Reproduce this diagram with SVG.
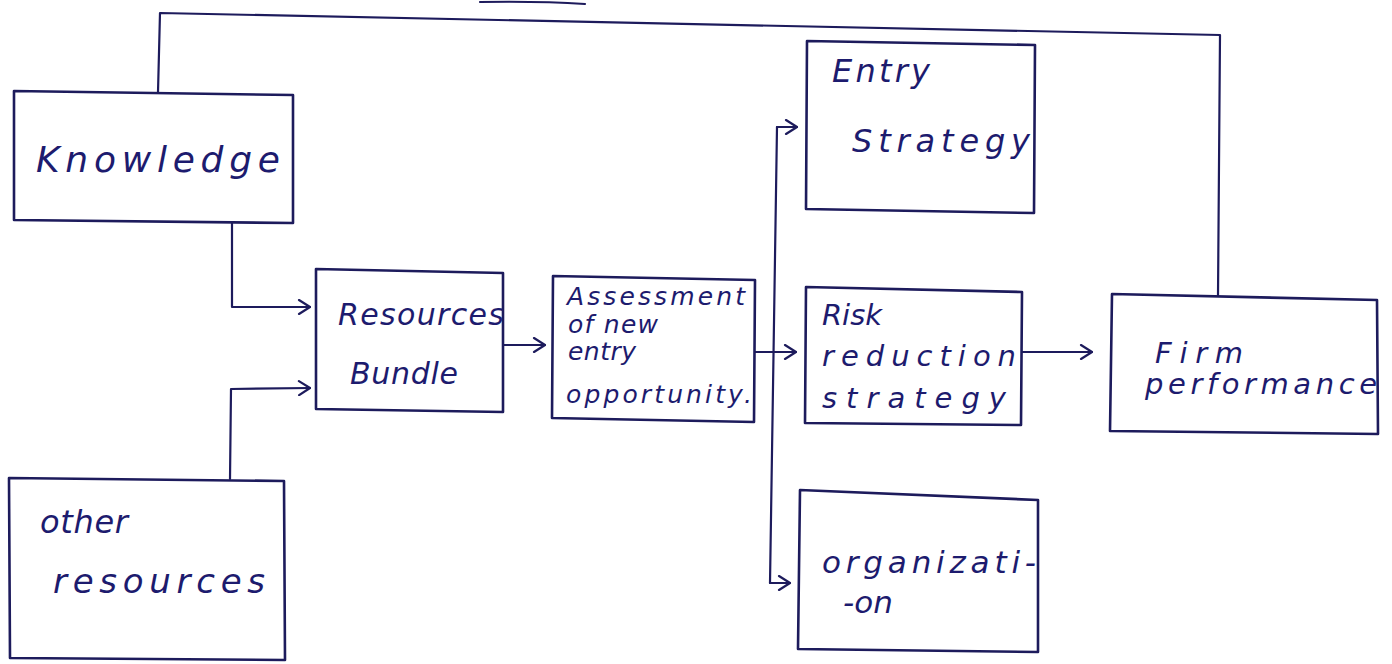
<svg xmlns="http://www.w3.org/2000/svg" width="1392" height="664" viewBox="0 0 1392 664">
<defs>
<style>
.box{fill:none;stroke:#1d1b5c;stroke-width:2.6;stroke-linejoin:round}
.ln{fill:none;stroke:#1d1b5c;stroke-width:2.2;stroke-linecap:round;stroke-linejoin:round}
.t{font-family:"DejaVu Sans","Liberation Sans",sans-serif;fill:#1d1b6e;font-style:italic}
</style>
<marker id="arr" viewBox="0 0 14 16" refX="13" refY="8" markerWidth="14" markerHeight="16" markerUnits="userSpaceOnUse" orient="auto">
<path d="M2,1 L13,8 L2,15" fill="none" stroke="#1d1b5c" stroke-width="2.2" stroke-linecap="round" stroke-linejoin="round"/>
</marker>
</defs>
<rect width="1392" height="664" fill="#ffffff"/>
<path class="ln" d="M480,2 Q540,1 585,4" stroke-width="3"/>
<g id="connectors">
<path class="ln" d="M158,92 L160,13 L1220,35 L1218,296"/>
<path class="ln" d="M232,223 L232,307 L310,307" marker-end="url(#arr)"/>
<path class="ln" d="M230,479 L231,389 L310,388" marker-end="url(#arr)"/>
<path class="ln" d="M503,345 L545,345" marker-end="url(#arr)"/>
<path class="ln" d="M755,352 L796,352" marker-end="url(#arr)"/>
<path class="ln" d="M770,583 L777,127"/>
<path class="ln" d="M777,127 L797,127" marker-end="url(#arr)"/>
<path class="ln" d="M770,583 L790,583" marker-end="url(#arr)"/>
<path class="ln" d="M1022,352 L1092,352" marker-end="url(#arr)"/>
</g>
<g id="knowledge">
<path class="box" d="M14,91 L293,95 L293,223 L14,220 Z"/>
<text class="t" x="36" y="172" font-size="36" textLength="244" lengthAdjust="spacing">Knowledge</text>
</g>
<g id="other-resources">
<path class="box" d="M9,478 L284,481 L285,660 L10,658 Z"/>
<text class="t" x="40" y="533" font-size="32" textLength="88" lengthAdjust="spacing">other</text>
<text class="t" x="53" y="593" font-size="34" textLength="212" lengthAdjust="spacing">resources</text>
</g>
<g id="resource-bundle">
<path class="box" d="M316,269 L503,273 L503,412 L316,409 Z"/>
<text class="t" x="338" y="325" font-size="30" textLength="166" lengthAdjust="spacing">Resources</text>
<text class="t" x="350" y="384" font-size="30" textLength="108" lengthAdjust="spacing">Bundle</text>
</g>
<g id="assessment">
<path class="box" d="M553,276 L755,280 L754,422 L552,418 Z"/>
<text class="t" x="567" y="305" font-size="25" textLength="178" lengthAdjust="spacing">Assessment</text>
<text class="t" x="568" y="333" font-size="25" textLength="90" lengthAdjust="spacing">of new</text>
<text class="t" x="568" y="360" font-size="25" textLength="68" lengthAdjust="spacing">entry</text>
<text class="t" x="566" y="403" font-size="25" textLength="186" lengthAdjust="spacing">opportunity.</text>
</g>
<g id="entry-strategy">
<path class="box" d="M807,41 L1035,45 L1034,213 L806,209 Z"/>
<text class="t" x="832" y="82" font-size="32" textLength="98" lengthAdjust="spacing">Entry</text>
<text class="t" x="852" y="152" font-size="32" textLength="178" lengthAdjust="spacing">Strategy</text>
</g>
<g id="risk-reduction">
<path class="box" d="M806,287 L1022,292 L1021,425 L805,423 Z"/>
<text class="t" x="822" y="325" font-size="29" textLength="60" lengthAdjust="spacing">Risk</text>
<text class="t" x="822" y="366" font-size="29" textLength="194" lengthAdjust="spacing">reduction</text>
<text class="t" x="822" y="408" font-size="29" textLength="184" lengthAdjust="spacing">strategy</text>
</g>
<g id="firm-performance">
<path class="box" d="M1112,294 L1377,300 L1378,434 L1110,431 Z"/>
<text class="t" x="1155" y="363" font-size="29" textLength="88" lengthAdjust="spacing">Firm</text>
<text class="t" x="1145" y="394" font-size="29" textLength="232" lengthAdjust="spacing">performance</text>
</g>
<g id="organization">
<path class="box" d="M800,490 L1038,500 L1038,652 L798,649 Z"/>
<text class="t" x="822" y="573" font-size="31" textLength="214" lengthAdjust="spacing">organizati-</text>
<text class="t" x="843" y="613" font-size="31" textLength="50" lengthAdjust="spacing">-on</text>
</g>
</svg>
